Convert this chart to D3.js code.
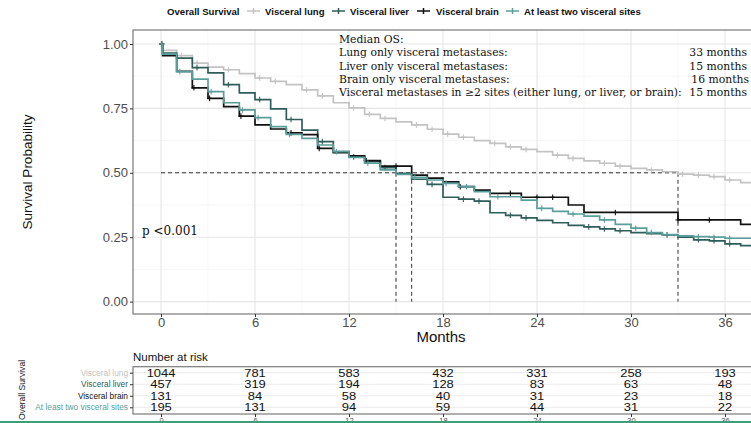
<!DOCTYPE html>
<html><head><meta charset="utf-8">
<script src="https://cdn.jsdelivr.net/npm/d3@7"></script>
<style>
body{margin:0;background:#fff;}
svg{display:block;font-family:"Liberation Sans",Arial,Helvetica,sans-serif;}
</style></head>
<body><svg id="c" width="751" height="423"></svg>
<script>
// ---------- data ----------
const seriesNames = ["Visceral lung","Visceral liver","Visceral brain","At least two visceral sites"];
const seriesColors = ["#c3c3c3","#2f5e5a","#111111","#5a9e9b"];
const times = [0,0.1,1,2,3,4,5,6,7,8,9,10,11,12,13,14,15,16,17,18,19,20,21,22,23,24,25,26,27,28,29,30,31,32,33,34,35,36,37,38];
const lung  = [1,0.975,0.955,0.926,0.91,0.9,0.885,0.868,0.855,0.842,0.822,0.799,0.772,0.752,0.727,0.711,0.698,0.686,0.669,0.65,0.638,0.625,0.614,0.601,0.591,0.582,0.569,0.556,0.546,0.537,0.526,0.517,0.511,0.504,0.495,0.491,0.485,0.472,0.462,0.462];
const liver = [1,0.965,0.945,0.908,0.888,0.842,0.81,0.784,0.748,0.707,0.666,0.621,0.582,0.562,0.543,0.52,0.498,0.475,0.455,0.405,0.398,0.39,0.345,0.335,0.325,0.315,0.306,0.296,0.29,0.282,0.275,0.268,0.264,0.259,0.25,0.24,0.236,0.224,0.217,0.217];
const brain = [1,0.955,0.894,0.83,0.789,0.757,0.72,0.686,0.67,0.655,0.648,0.595,0.578,0.566,0.547,0.526,0.526,0.491,0.479,0.465,0.446,0.433,0.42,0.42,0.405,0.405,0.405,0.375,0.346,0.346,0.346,0.346,0.346,0.346,0.317,0.317,0.317,0.317,0.30,0.30];
const multi = [1,0.961,0.893,0.864,0.815,0.772,0.744,0.714,0.679,0.649,0.634,0.608,0.582,0.56,0.537,0.511,0.494,0.482,0.472,0.459,0.446,0.427,0.407,0.407,0.394,0.362,0.35,0.34,0.332,0.317,0.3,0.285,0.268,0.26,0.255,0.252,0.25,0.246,0.246,0.246];
const censorLung  = [0.05,1.3,2.3,4.3,6.3,7.3,9.3,10.3,12.3,13.3,14.3,16.3,17.3,18.3,19.3,21.3,22.3,23.3,25.3,26.3,28.3,29.3,31.3,33.3,34.3,35.3,36.3];
const censorLiver = [0.05,2.3,4.3,6.3,8.3,10.3,12.3,14.3,17.3,19.3,20.3,22.3,23.3,27.3,28.3,29.3,32.3,34.3,35.3,36.3];
const censorBrain = [0.05,2.1,3.1,5.1,8.3,10.1,13.1,15.0,19.1,22.3,24.0,25.0,29.0,33.0,35.0];
const censorMulti = [0.05,1.2,3.2,5.2,6.2,8.2,11.2,13.2,16.2,18.2,19.5,21.5,24.3,26.3,28.3,30.3,31.3,34.3,35.3,36.3];
const medians = [33,15,16,15];
const medianLabels = ["Lung only visceral metastases:","Liver only visceral metastases:","Brain only visceral metastases:","Visceral metastases in \u22652 sites (either lung, or liver, or brain):"];
const medianValues = ["33 months","15 months","16 months","15 months"];
const xTicks = [0,6,12,18,24,30,36];
const xMinor = [3,9,15,21,27,33,39];
const yTicks = [0,0.25,0.5,0.75,1];
const yMinor = [0.125,0.375,0.625,0.875];
const riskTimes = [0,6,12,18,24,30,36];
const riskLung  = [1044,781,583,432,331,258,193];
const riskLiver = [457,319,194,128,83,63,48];
const riskBrain = [131,84,58,40,31,23,18];
const riskMulti = [195,131,94,59,44,31,22];
const pText = "p <0.001";

const survival = [lung, liver, brain, multi];
const censors = [censorLung, censorLiver, censorBrain, censorMulti];
const risks = [riskLung, riskLiver, riskBrain, riskMulti];

// ---------- layout ----------
const svg = d3.select("#c");
const P = {l:133, r:770, t:30, b:314};
const x = d3.scaleLinear().domain([0,36]).range([161,725]);
const y = d3.scaleLinear().domain([0,1]).range([301.6,44]);
const serif = "DejaVu Serif, Georgia, serif";

svg.append("defs").append("clipPath").attr("id","pc")
  .append("rect").attr("x",P.l).attr("y",P.t).attr("width",P.r-P.l).attr("height",P.b-P.t);

const g = svg.append("g");
g.selectAll(".vmin").data(xMinor).join("line").attr("x1",d=>x(d)).attr("x2",d=>x(d)).attr("y1",P.t).attr("y2",P.b).attr("stroke","#f0f0f0").attr("stroke-width",0.6);
g.selectAll(".hmin").data(yMinor).join("line").attr("y1",d=>y(d)).attr("y2",d=>y(d)).attr("x1",P.l).attr("x2",P.r).attr("stroke","#f0f0f0").attr("stroke-width",0.6);
g.selectAll(".vmaj").data(xTicks).join("line").attr("x1",d=>x(d)).attr("x2",d=>x(d)).attr("y1",P.t).attr("y2",P.b).attr("stroke","#e6e6e6").attr("stroke-width",1.1);
g.selectAll(".hmaj").data(yTicks).join("line").attr("y1",d=>y(d)).attr("y2",d=>y(d)).attr("x1",P.l).attr("x2",P.r).attr("stroke","#e6e6e6").attr("stroke-width",1.1);

// median dashed lines
const dl = svg.append("g").attr("stroke","#333").attr("stroke-width",1).attr("stroke-dasharray","4,3").attr("fill","none");
dl.append("line").attr("x1",x(0)).attr("x2",x(d3.max(medians))).attr("y1",y(0.5)).attr("y2",y(0.5));
dl.selectAll(".v").data(Array.from(new Set(medians))).join("line").attr("x1",d=>x(d)).attr("x2",d=>x(d)).attr("y1",y(0.5)).attr("y2",y(0));

// curves
const cg = svg.append("g").attr("clip-path","url(#pc)");
const line = d3.line().x(d=>x(d[0])).y(d=>y(d[1])).curve(d3.curveStepAfter);
function valAt(s,t){ let v=s[0]; for(let i=0;i<times.length;i++){ if(times[i]<=t) v=s[i]; } return v; }
survival.forEach((s,i)=>{
  const pts = times.map((t,j)=>[t,s[j]]);
  cg.append("path").attr("d",line(pts)).attr("fill","none").attr("stroke",seriesColors[i]).attr("stroke-width",1.7);
  const cm = cg.append("g").attr("stroke",seriesColors[i]).attr("stroke-width",1.1);
  censors[i].forEach(t=>{
    const cx=x(t), cy=y(valAt(s,t));
    cm.append("line").attr("x1",cx).attr("x2",cx).attr("y1",cy-2.8).attr("y2",cy+2.8);
    cm.append("line").attr("x1",cx-2.5).attr("x2",cx+2.5).attr("y1",cy).attr("y2",cy);
  });
});

svg.append("rect").attr("x",P.l).attr("y",P.t).attr("width",P.r-P.l).attr("height",P.b-P.t).attr("fill","none").attr("stroke","#7a7a7a").attr("stroke-width",1.2);

// axes
const ay = svg.append("g").attr("transform",`translate(${P.l},0)`).call(d3.axisLeft(y).tickValues(yTicks).tickFormat(d3.format(".2f")).tickSize(3).tickPadding(2));
ay.select(".domain").remove();
ay.selectAll("text").attr("font-size",13).attr("fill","#4d4d4d").attr("font-family","Liberation Sans, Arial, sans-serif");
ay.selectAll("line").attr("stroke","#333");
const ax = svg.append("g").attr("transform",`translate(0,${P.b})`).call(d3.axisBottom(x).tickValues(xTicks).tickSize(3).tickPadding(1));
ax.select(".domain").remove();
ax.selectAll("text").attr("font-size",13).attr("fill","#4d4d4d").attr("font-family","Liberation Sans, Arial, sans-serif");
ax.selectAll("line").attr("stroke","#333");

svg.append("text").attr("x",441).attr("y",342).attr("text-anchor","middle").attr("font-size",15).attr("fill","#111").text("Months");
svg.append("text").attr("transform","translate(31.5,172) rotate(-90)").attr("text-anchor","middle").attr("font-size",13.5).attr("fill","#111").text("Survival Probability");

// p value
svg.append("text").attr("x",142).attr("y",235).attr("font-family",serif).attr("font-size",12).attr("fill","#111").text(pText);

// median text
const mt = svg.append("g").attr("font-family",serif).attr("font-size",10.8).attr("fill","#111");
mt.append("text").attr("x",339).attr("y",43).text("Median OS:");
medianLabels.forEach((t,i)=>{
  mt.append("text").attr("x",339).attr("y",56.3+i*13.3).text(t);
  mt.append("text").attr("x",i===2?749:747).attr("y",56.3+i*13.3).attr("text-anchor","end").text(medianValues[i]);
});

// legend
const lg = svg.append("g").attr("font-size",9.6).attr("font-weight","bold").attr("fill","#111");
lg.append("text").attr("x",167).attr("y",14.5).text("Overall Survival");
const keyX = [247,332,417,506];
const labX = [265,350,436,524];
seriesNames.forEach((n,i)=>{
  const k = lg.append("g").attr("stroke",seriesColors[i]).attr("stroke-width",1.5);
  k.append("line").attr("x1",keyX[i]).attr("x2",keyX[i]+13).attr("y1",11).attr("y2",11);
  k.append("line").attr("x1",keyX[i]+6.5).attr("x2",keyX[i]+6.5).attr("y1",8).attr("y2",14);
  lg.append("text").attr("x",labX[i]).attr("y",14.5).text(n);
});

// ---------- risk table ----------
const T = {t:366.7, b:414};
const yt = d3.scalePoint().domain(seriesNames).range([372.7,407.3]);
svg.append("text").attr("x",133).attr("y",360.5).attr("font-size",11.5).attr("fill","#111").text("Number at risk");
const tg = svg.append("g");
tg.selectAll(".tv").data(xTicks).join("line").attr("x1",d=>x(d)).attr("x2",d=>x(d)).attr("y1",T.t).attr("y2",T.b).attr("stroke","#ebebeb").attr("stroke-width",1);
tg.selectAll(".th").data(seriesNames).join("line").attr("y1",d=>yt(d)).attr("y2",d=>yt(d)).attr("x1",P.l).attr("x2",P.r).attr("stroke","#ebebeb").attr("stroke-width",1);
risks.forEach((r,i)=>{
  tg.selectAll(".r"+i).data(r).join("text")
    .attr("transform",(d,j)=>`translate(${x(riskTimes[j])},${yt(seriesNames[i])}) scale(1.22,1)`)
    .attr("dy","0.36em").attr("text-anchor","middle").attr("font-size",10.6).attr("fill","#111").text(d=>d);
});
svg.append("rect").attr("x",P.l).attr("y",T.t).attr("width",P.r-P.l).attr("height",T.b-T.t).attr("fill","none").attr("stroke","#7a7a7a").attr("stroke-width",1.2);
const at = svg.append("g").attr("transform",`translate(${P.l},0)`).call(d3.axisLeft(yt).tickSize(3).tickPadding(2));
at.select(".domain").remove();
at.selectAll("text").attr("font-size",8.3).attr("font-family","Liberation Sans, Arial, sans-serif").attr("fill",(d,i)=>seriesColors[i]);
at.selectAll("line").attr("stroke","#333");
const atx = svg.append("g").attr("transform",`translate(0,${T.b})`).call(d3.axisBottom(x).tickValues(xTicks).tickSize(3).tickPadding(1));
atx.select(".domain").remove();
atx.selectAll("text").attr("font-size",7.5).attr("fill","#4d4d4d").attr("font-family","Liberation Sans, Arial, sans-serif");
atx.selectAll("line").attr("stroke","#333");
svg.append("text").attr("transform","translate(25,390) rotate(-90)").attr("text-anchor","middle").attr("font-size",8.6).attr("fill","#111").text("Overall Survival");

svg.append("rect").attr("x",0).attr("y",421).attr("width",751).attr("height",2).attr("fill","#3d9f78");
</script></body></html>
